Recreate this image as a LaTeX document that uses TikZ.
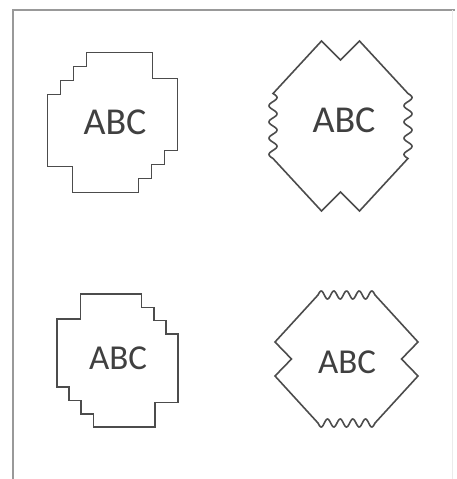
\documentclass[tikz,border=0pt]{standalone}
\usepackage{fontspec}
\setmainfont{Carlito}
\begin{document}
\begin{tikzpicture}[x=1pt, y=-1pt,
  outline/.style={draw=black!70, line width=1.6pt, line join=miter},
  frame/.style={draw=black!40, line width=1.2pt},
  lab/.style={text=black!75, inner sep=0pt},
  bigabc/.style={lab, font=\fontsize{38}{40}\selectfont},
  smallabc/.style={lab, font=\fontsize{35}{37}\selectfont},
  ]
\useasboundingbox (0,0) rectangle (457,479);

% ---- Frame -----------------------------------------------------------------
\draw[frame] (13,490) -- (13,10) -- (455,10);
\draw[black!8, line width=1pt] (452,10) -- (452,490);

% ---- Stepped outline, top left ---------------------------------------------
\begin{scope}[shift={(112.5,122.5)}]
  \draw[outline] (-26,-70) -- (40,-70) -- (40,-44) -- (65,-44) -- (65,28)
    -- (52,28) -- (52,42) -- (39,42) -- (39,56) -- (26,56) -- (26,70)
    -- (-40,70) -- (-40,44) -- (-65,44) -- (-65,-28)
    -- (-52,-28) -- (-52,-42) -- (-39,-42) -- (-39,-56) -- (-26,-56) -- cycle;
\end{scope}
\node[bigabc] (abcTL) at (115,122) {ABC};

% ---- Zigzag outline, top right (wavy sides) --------------------------------
\begin{scope}[shift={(340.5,126)}]
  \draw[outline] (-19,-85) -- (0,-66) -- (19,-85) -- (67.5,-32.5)
    -- plot[variable=\t, domain=0:1, samples=90]
       ({67.5+4*sin(1440*\t)}, {-32.5+65*\t})
    -- (19,85) -- (0,66) -- (-19,85) -- (-67.5,32.5)
    -- plot[variable=\t, domain=0:1, samples=90]
       ({-67.5-4*sin(1440*\t)}, {32.5-65*\t})
    -- cycle;
\end{scope}
\node[bigabc] (abcTR) at (344,120) {ABC};

% ---- Stepped outline, bottom left (mirrored) -------------------------------
\begin{scope}[shift={(117.5,360.5)}, xscale=-0.93, yscale=0.95]
  \draw[outline] (-26,-70) -- (40,-70) -- (40,-44) -- (65,-44) -- (65,28)
    -- (52,28) -- (52,42) -- (39,42) -- (39,56) -- (26,56) -- (26,70)
    -- (-40,70) -- (-40,44) -- (-65,44) -- (-65,-28)
    -- (-52,-28) -- (-52,-42) -- (-39,-42) -- (-39,-56) -- (-26,-56) -- cycle;
\end{scope}
\node[smallabc] (abcBL) at (118,358) {ABC};

% ---- Zigzag outline, bottom right (wavy top and bottom) --------------------
\begin{scope}[shift={(346.5,359)}]
  \draw[outline] (-28.5,-64)
    -- plot[variable=\t, domain=0:1, samples=90]
       ({-28.5+57*\t}, {-64-4*sin(1620*\t)})
    -- (71.5,-17) -- (55,0) -- (71.5,17) -- (28.5,64)
    -- plot[variable=\t, domain=0:1, samples=90]
       ({28.5-57*\t}, {64+4*sin(1620*\t)})
    -- (-71.5,17) -- (-55,0) -- (-71.5,-17) -- cycle;
\end{scope}
\node[smallabc] (abcBR) at (347,362) {ABC};

\end{tikzpicture}
\end{document}
